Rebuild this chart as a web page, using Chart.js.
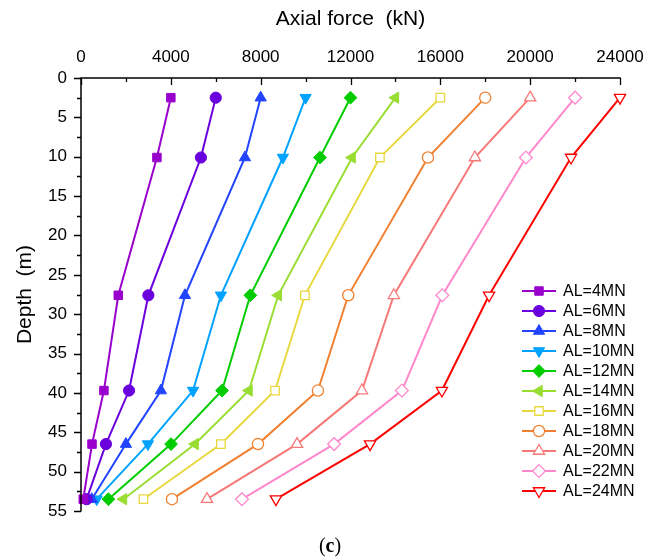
<!DOCTYPE html>
<html>
<head>
<meta charset="utf-8">
<script src="https://cdn.jsdelivr.net/npm/chart.js@4.4.1/dist/chart.umd.min.js"></script>
<style>
  html, body { margin: 0; padding: 0; background: #ffffff; }
  #wrap { width: 646px; height: 557px; }
</style>
</head>
<body>
<div id="wrap"><canvas id="c" width="646" height="557"></canvas></div>
<script>
// ---- data ----
const depths = [2.5, 10.1, 27.6, 39.7, 46.5, 53.5];           // m
const seriesNames = ['AL=4MN','AL=6MN','AL=8MN','AL=10MN','AL=12MN','AL=14MN',
                     'AL=16MN','AL=18MN','AL=20MN','AL=22MN','AL=24MN'];
const AL4  = [4000, 3380, 1660, 1020, 490, 100];
const AL6  = [6000, 5340, 3000, 2140, 1110, 250];
const AL8  = [8000, 7300, 4630, 3560, 2000, 480];
const AL10 = [10000, 8990, 6230, 4990, 2980, 700];
const AL12 = [12000, 10640, 7540, 6280, 4010, 1220];
const AL14 = [14000, 12070, 8780, 7480, 5080, 1890];
const AL16 = [16000, 13310, 9970, 8640, 6230, 2780];
const AL18 = [18000, 15450, 11900, 10550, 7880, 4050];
const AL20 = [20000, 17540, 13930, 12510, 9620, 5610];
const AL22 = [22000, 19810, 16090, 14290, 11270, 7170];
const AL24 = [24000, 21820, 18170, 16070, 12870, 8680];
const seriesValues = [AL4, AL6, AL8, AL10, AL12, AL14, AL16, AL18, AL20, AL22, AL24];
const xTickLabels = [0, 4000, 8000, 12000, 16000, 20000, 24000];
const yTickLabels = [0, 5, 10, 15, 20, 25, 30, 35, 40, 45, 50, 55];

// ---- styles ----
const colors = ['#9900CC','#6A00DD','#2244FF','#00A2FF','#00CC00','#99DD33',
                '#E8D840','#F08030','#F87878','#FF88CC','#FF0000'];
const styles = [
  {s:'rect', r:6, rot:0, fill:true},
  {s:'circle', r:5.6, rot:0, fill:true},
  {s:'triangle', r:6.5, rot:0, fill:true},
  {s:'triangle', r:6.5, rot:180, fill:true},
  {s:'rectRot', r:6.4, rot:0, fill:true},
  {s:'triangle', r:6.5, rot:270, fill:true},
  {s:'rect', r:6, rot:0, fill:false},
  {s:'circle', r:5.6, rot:0, fill:false},
  {s:'triangle', r:6.5, rot:0, fill:false},
  {s:'rectRot', r:6.4, rot:0, fill:false},
  {s:'triangle', r:6.5, rot:180, fill:false}
];

const datasets = seriesValues.map((vals, i) => ({
  label: seriesNames[i],
  data: vals.map((v, k) => ({x: v, y: depths[k]})),
  showLine: true,
  borderColor: colors[i],
  backgroundColor: colors[i],
  borderWidth: 2,
  pointStyle: styles[i].s,
  pointRotation: styles[i].rot,
  pointRadius: styles[i].r,
  pointHoverRadius: styles[i].r,
  pointBackgroundColor: styles[i].fill ? colors[i] : '#ffffff',
  pointBorderColor: colors[i],
  pointBorderWidth: styles[i].fill ? 1 : 1.3,
  clip: false
}));

function drawMarker(ctx, st, color, x, y) {
  const opts = {pointStyle: st.s, rotation: st.rot, radius: st.r, borderWidth: st.fill ? 1 : 1.3};
  ctx.save();
  ctx.fillStyle = st.fill ? color : '#ffffff';
  ctx.strokeStyle = color;
  ctx.lineWidth = opts.borderWidth;
  Chart.helpers.drawPoint(ctx, opts, x, y);
  ctx.restore();
}

const decor = {
  id: 'decor',
  afterDraw(chart) {
    const ctx = chart.ctx;
    const xs = chart.scales.x, ys = chart.scales.y;
    const L = chart.chartArea.left, T = chart.chartArea.top;
    const R = chart.chartArea.right, B = chart.chartArea.bottom;
    ctx.save();
    ctx.strokeStyle = '#000';
    // axis lines
    ctx.lineWidth = 1.5;
    ctx.beginPath();
    ctx.moveTo(L, B + 0.5); ctx.lineTo(L, T); ctx.lineTo(R + 0.75, T);
    ctx.stroke();
    // x ticks (inward, downward)
    ctx.lineWidth = 1.3;
    ctx.beginPath();
    for (let v = 0; v <= 24000; v += 2000) {
      const px = Math.round(xs.getPixelForValue(v)) + 0.5;
      const len = (v % 4000 === 0) ? 7 : 4;
      ctx.moveTo(px, T); ctx.lineTo(px, T + len);
    }
    // y ticks (outward, leftward)
    for (let d = 0; d <= 55; d += 2.5) {
      const py = Math.round(ys.getPixelForValue(d)) + 0.5;
      const len = (d % 5 === 0) ? 7 : 4;
      ctx.moveTo(L, py); ctx.lineTo(L - len, py);
    }
    ctx.stroke();

    // legend
    const lx0 = R - 98, lx1 = R - 64, mx = R - 81, tx = R - 57;
    let ly = T + 213;
    ctx.font = '16px "Liberation Sans", Arial, sans-serif';
    ctx.textBaseline = 'middle';
    ctx.textAlign = 'left';
    chart.data.datasets.forEach((ds, i) => {
      ctx.strokeStyle = colors[i];
      ctx.lineWidth = 2;
      ctx.beginPath();
      ctx.moveTo(lx0, ly); ctx.lineTo(lx1, ly);
      ctx.stroke();
      drawMarker(ctx, styles[i], colors[i], mx, ly);
      ctx.fillStyle = '#000';
      ctx.fillText(ds.label, tx, ly + 1);
      ly += 20;
    });

    // panel label "(c)"
    const cy = 552;
    const reg = '20px "Liberation Serif", "Times New Roman", serif';
    const bold = 'bold 20px "Liberation Serif", "Times New Roman", serif';
    ctx.textBaseline = 'alphabetic';
    ctx.fillStyle = '#000';
    ctx.font = reg; const w1 = ctx.measureText('(').width;
    ctx.font = bold; const w2 = ctx.measureText('c').width;
    ctx.font = reg; const w3 = ctx.measureText(')').width;
    let cx = 330 - (w1 + w2 + w3) / 2;
    ctx.font = reg; ctx.fillText('(', cx, cy); cx += w1;
    ctx.font = bold; ctx.fillText('c', cx, cy); cx += w2;
    ctx.font = reg; ctx.fillText(')', cx, cy);
    ctx.restore();
  }
};

const tickFont = {family: '"Liberation Sans", Arial, sans-serif', size: 17};
const titleFont = {family: '"Liberation Sans", Arial, sans-serif', size: 21};

new Chart(document.getElementById('c'), {
  type: 'scatter',
  data: { datasets },
  options: {
    responsive: false,
    animation: false,
    devicePixelRatio: 1,
    layout: { padding: { left: 0, top: 0, right: 26, bottom: 46 } },
    plugins: { legend: { display: false }, tooltip: { enabled: false } },
    scales: {
      x: {
        type: 'linear', position: 'top',
        min: 0, max: 24000,
        afterBuildTicks: (s) => { s.ticks = xTickLabels.map(v => ({value: v})); },
        ticks: { color: '#000', font: tickFont, padding: 10, maxRotation: 0, autoSkip: false,
                 callback: (v) => String(v) },
        grid: { display: false, drawTicks: false },
        border: { display: false },
        title: { display: true, text: 'Axial force  (kN)', color: '#000', font: titleFont,
                 padding: { top: 7, bottom: 0 } },
        afterFit: (s) => { s.height = 78; s.paddingLeft = 0; s.paddingRight = 0; }
      },
      y: {
        type: 'linear', position: 'left', reverse: true,
        min: 0, max: 55,
        afterBuildTicks: (s) => { s.ticks = yTickLabels.map(v => ({value: v})); },
        ticks: { color: '#000', font: tickFont, padding: 14, autoSkip: false },
        grid: { display: false, drawTicks: false },
        border: { display: false },
        title: { display: true, text: 'Depth  (m)', color: '#000', font: titleFont,
                 padding: { top: 13, bottom: 0 } },
        afterFit: (s) => { s.width = 81; s.paddingTop = 0; s.paddingBottom = 0; }
      }
    }
  },
  plugins: [decor]
});
</script>
</body>
</html>
